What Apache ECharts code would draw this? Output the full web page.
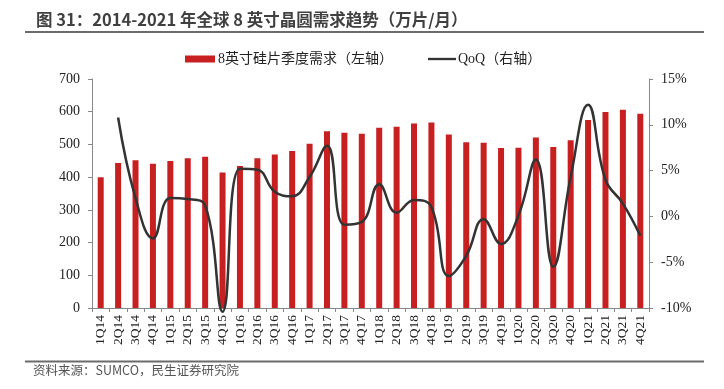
<!DOCTYPE html>
<html>
<head>
<meta charset="utf-8">
<script src="https://cdn.jsdelivr.net/npm/echarts@6/dist/echarts.min.js"></script>
<style>
html,body{margin:0;padding:0;background:#fff;}
#c{width:724px;height:389px;}
</style>
</head>
<body>
<div id="c"></div>
<script>
var categories = ['1Q14','2Q14','3Q14','4Q14','1Q15','2Q15','3Q15','4Q15','1Q16','2Q16','3Q16','4Q16','1Q17','2Q17','3Q17','4Q17','1Q18','2Q18','3Q18','4Q18','1Q19','2Q19','3Q19','4Q19','1Q20','2Q20','3Q20','4Q20','1Q21','2Q21','3Q21','4Q21'];
var demand = [400,443,452,441,449,458,462,414,434,458,469,480,502,540,536,533,551,554,564,567,530,507,505,489,490,521,492,513,575,599,606,594];
var qoq = [null,10.8,2.0,-2.4,2.0,1.9,1.2,-10.4,5.2,5.1,2.7,2.2,4.3,7.7,-0.9,-0.6,3.5,0.4,1.8,1.0,-6.5,-4.3,-0.3,-3.0,0.1,6.2,-5.5,4.3,12.2,4.0,1.4,-2.1];
var leftTicks = [0,100,200,300,400,500,600,700];
var rightTicks = [-10,-5,0,5,10,15];

var serif = '"Liberation Serif","Times New Roman","Noto Sans CJK SC",serif';
var chart = echarts.init(document.getElementById('c'));
chart.setOption({
  animation:false,
  backgroundColor:'#fff',
  title:{
    text:'图 31：2014-2021 年全球 8 英寸晶圆需求趋势（万片/月）',
    left:31, top:6,
    textStyle:{fontFamily:'"Noto Sans CJK SC","Noto Sans",sans-serif',fontSize:16.5,fontWeight:'bold',color:'#404040'}
  },
  graphic:[
    {type:'line',shape:{x1:25,y1:32,x2:704,y2:32},style:{stroke:'#6b6b6b',lineWidth:2}},
    {type:'line',shape:{x1:25,y1:361.5,x2:704,y2:361.5},style:{stroke:'#6b6b6b',lineWidth:2}},
    {type:'text',left:33,top:364,style:{text:'资料来源：SUMCO，民生证券研究院',fontFamily:'"Noto Sans CJK SC",sans-serif',fontSize:12.5,fill:'#555'}}
  ],
  legend:[
    {
      top:52, left:185, padding:0,
      itemWidth:30, itemHeight:7,
      textStyle:{fontFamily:serif,fontSize:14,color:'#222',padding:[0,0,0,-2]},
      data:[{name:'8英寸硅片季度需求（左轴）',icon:'rect'}]
    },
    {
      top:52, left:428, padding:0,
      itemWidth:28, itemHeight:7,
      textStyle:{fontFamily:serif,fontSize:14,color:'#222',padding:[0,0,0,-3]},
      data:[{name:'QoQ（右轴）',icon:'path://M0,0 L30,0 L30,2.5 L0,2.5 Z',itemStyle:{color:'#333'}}]
    }
  ],
  grid:{left:92,right:75,top:79,bottom:81},
  xAxis:{
    type:'category',
    data:categories,
    axisLine:{lineStyle:{color:'#888',width:1}},
    axisTick:{show:true,length:4,lineStyle:{color:'#888'}},
    axisLabel:{rotate:90,fontFamily:serif,fontSize:13.5,color:'#222',margin:7,interval:0}
  },
  yAxis:[
    {
      type:'value',min:0,max:700,interval:100,
      splitLine:{show:false},
      axisLine:{show:true,lineStyle:{color:'#888'}},
      axisTick:{show:true,length:4,lineStyle:{color:'#888'}},
      axisLabel:{fontFamily:serif,fontSize:14,color:'#222',margin:12}
    },
    {
      type:'value',min:-10,max:15,interval:5,
      splitLine:{show:false},
      axisLine:{show:true,lineStyle:{color:'#888'}},
      axisTick:{show:true,length:4,lineStyle:{color:'#888'}},
      axisLabel:{fontFamily:serif,fontSize:14,color:'#222',margin:12,formatter:function(v){return v+'%';}}
    }
  ],
  series:[
    {
      name:'8英寸硅片季度需求（左轴）',
      type:'bar',
      data:demand,
      barWidth:6,
      itemStyle:{color:'#C81F20'},
      yAxisIndex:0
    },
    {
      name:'QoQ（右轴）',
      type:'line',
      data:qoq,
      yAxisIndex:1,
      smooth:0.45,
      showSymbol:false,
      symbol:'none',
      clip:false,
      connectNulls:false,
      lineStyle:{color:'#333',width:2.5},
      itemStyle:{color:'#333'}
    }
  ]
});
</script>
</body>
</html>
